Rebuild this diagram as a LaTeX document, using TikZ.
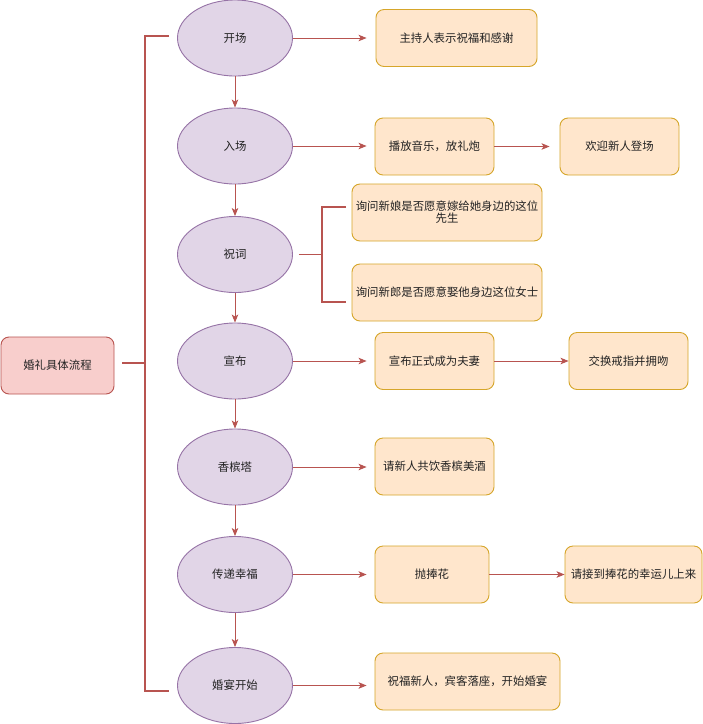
\documentclass[tikz,border=0pt]{standalone}
\usepackage{fontspec}
\setmainfont{Noto Sans CJK SC}
\usetikzlibrary{shapes.geometric,arrows.meta}
\definecolor{ellfill}{HTML}{E1D5E7}
\definecolor{elldraw}{HTML}{9673A6}
\definecolor{boxfill}{HTML}{FFE6CC}
\definecolor{boxdraw}{HTML}{D6A62A}
\definecolor{rootfill}{HTML}{F8CECC}
\definecolor{linecol}{HTML}{B85450}
\definecolor{txt}{HTML}{222222}
\begin{document}
\begin{tikzpicture}[x=1pt,y=-1pt,
  every node/.style={font=\fontsize{11.4}{14}\selectfont, text=txt},
  ell/.style={ellipse, draw=elldraw, fill=ellfill, line width=0.9pt, minimum width=115pt, minimum height=76pt, inner sep=0pt},
  box/.style={rectangle, rounded corners=8pt, draw=boxdraw, fill=boxfill, line width=0.9pt, minimum height=57pt, inner sep=2pt, align=center},
  rootbox/.style={rectangle, rounded corners=8pt, draw=linecol, fill=rootfill, line width=0.9pt, minimum width=113pt, minimum height=57pt},
  conn/.style={draw=linecol, line width=0.9pt, -{Stealth[length=8pt,width=6.5pt,inset=2pt]}},
  brk/.style={draw=linecol, line width=1.8pt}]
\useasboundingbox (0,0) rectangle (703,724);
\fill[white] (0,0) rectangle (703,724);

\node[rootbox] (root) at (57.5,365.5) {婚礼具体流程};

\node[ell] (e1) at (235,38) {开场};
\node[ell] (e2) at (235,146) {入场};
\node[ell] (e3) at (235,254.5) {祝词};
\node[ell] (e4) at (235,361) {宣布};
\node[ell] (e5) at (235,467) {香槟塔};
\node[ell] (e6) at (235,574.5) {传递幸福};
\node[ell] (e7) at (235,685.5) {婚宴开始};

\node[box, minimum width=161pt] (b1) at (456.5,38) {主持人表示祝福和感谢};
\node[box, minimum width=119pt] (b2) at (434.5,146.5) {播放音乐，放礼炮};
\node[box, minimum width=119pt] (c2) at (619.5,146.5) {欢迎新人登场};
\node[box, minimum width=190pt] (b3a) at (447,212.5) {询问新娘是否愿意嫁给她身边的这位\\[-2pt]先生};
\node[box, minimum width=190pt] (b3b) at (447,292.5) {询问新郎是否愿意娶他身边这位女士};
\node[box, minimum width=119pt] (b4) at (434.5,361) {宣布正式成为夫妻};
\node[box, minimum width=119pt] (c4) at (628.5,361) {交换戒指并拥吻};
\node[box, minimum width=119pt] (b5) at (434.5,466.5) {请新人共饮香槟美酒};
\node[box, minimum width=114pt] (b6) at (432,574.5) {抛捧花};
\node[box, minimum width=137pt] (c6) at (633.5,574.5) {请接到捧花的幸运儿上来};
\node[box, minimum width=185pt] (b7) at (467.5,681.5) {祝福新人，宾客落座，开始婚宴};

% vertical chain
\draw[conn] (e1.south) -- (e2.north);
\draw[conn] (e2.south) -- (e3.north);
\draw[conn] (e3.south) -- (e4.north);
\draw[conn] (e4.south) -- (e5.north);
\draw[conn] (e5.south) -- (e6.north);
\draw[conn] (e6.south) -- (e7.north);

% horizontal arrows
\draw[conn, shorten >=9pt] (e1.east) -- (e1.east -| b1.west);
\draw[conn, shorten >=8pt] (e2.east) -- (e2.east -| b2.west);
\draw[conn, shorten >=10pt] (b2.east) -- (c2.west);
\draw[conn, shorten >=8pt] (e4.east) -- (b4.west);
\draw[conn] (b4.east) -- (c4.west);
\draw[conn, shorten >=8pt] (e5.east) -- (e5.east -| b5.west);
\draw[conn, shorten >=8pt] (e6.east) -- (b6.west);
\draw[conn] (b6.east) -- (c6.west);
\draw[conn, shorten >=8pt] (e7.east) -- (e7.east -| b7.west);

% main bracket
\coordinate (mt) at (169,36);
\coordinate (mb) at (169,691);
\coordinate (mx) at (145,363);
\draw[brk] ([xshift=8pt]root.east |- mx) -- (mx);
\draw[brk] (mt) -- (mt -| mx) -- (mb -| mx) -- (mb);

% 祝词 bracket
\coordinate (st) at (346,207);
\coordinate (sb) at (346,302);
\coordinate (sx) at (322,254.5);
\draw[brk] ([xshift=6pt]e3.east) -- (sx);
\draw[brk] (st) -- (st -| sx) -- (sb -| sx) -- (sb);
\end{tikzpicture}
\end{document}
